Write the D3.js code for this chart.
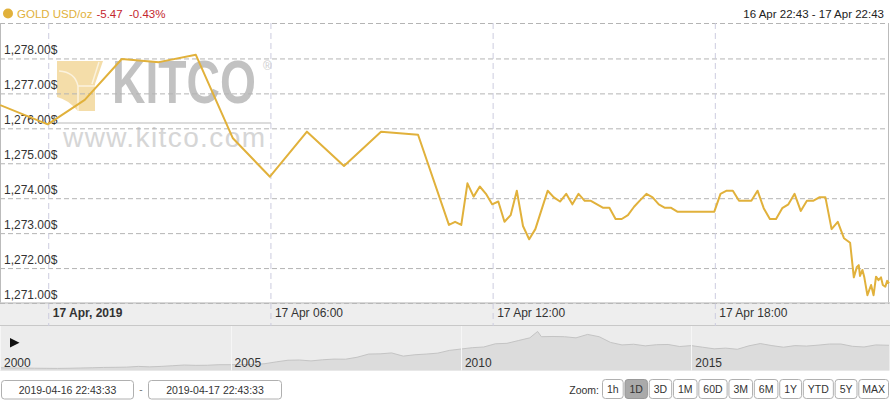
<!DOCTYPE html>
<html><head><meta charset="utf-8">
<script src="https://cdn.jsdelivr.net/npm/d3@7"></script>
<style>
html,body{margin:0;padding:0;background:#fff;}
svg{display:block;font-family:"Liberation Sans",Arial,sans-serif;}
</style></head>
<body><svg id="c" width="890" height="400"></svg>
<script>
// ---------- DATA ----------
const seriesName = "GOLD USD/oz";
const changeText = "-5.47  -0.43%";
const rangeText = "16 Apr 22:43 - 17 Apr 22:43";
const startLabel = "2019-04-16 22:43:33";
const endLabel = "2019-04-17 22:43:33";

const times = [
 "2019-04-16T22:43","2019-04-17T00:00","2019-04-17T01:00","2019-04-17T02:00","2019-04-17T03:00",
 "2019-04-17T04:00","2019-04-17T05:00","2019-04-17T06:00","2019-04-17T07:00","2019-04-17T08:00",
 "2019-04-17T09:00","2019-04-17T10:00","2019-04-17T10:50","2019-04-17T11:00","2019-04-17T11:10",
 "2019-04-17T11:20","2019-04-17T11:30","2019-04-17T11:40","2019-04-17T11:50","2019-04-17T12:00",
 "2019-04-17T12:10","2019-04-17T12:20","2019-04-17T12:30","2019-04-17T12:40","2019-04-17T12:50",
 "2019-04-17T13:00","2019-04-17T13:10","2019-04-17T13:20","2019-04-17T13:30","2019-04-17T13:40",
 "2019-04-17T13:50","2019-04-17T14:00","2019-04-17T14:10","2019-04-17T14:20","2019-04-17T14:30",
 "2019-04-17T14:40","2019-04-17T14:50","2019-04-17T15:00","2019-04-17T15:10","2019-04-17T15:20",
 "2019-04-17T15:30","2019-04-17T15:40","2019-04-17T15:50","2019-04-17T16:00","2019-04-17T16:10",
 "2019-04-17T16:20","2019-04-17T16:30","2019-04-17T16:40","2019-04-17T16:50","2019-04-17T17:00",
 "2019-04-17T18:00","2019-04-17T18:10","2019-04-17T18:20","2019-04-17T18:30","2019-04-17T18:40",
 "2019-04-17T18:50","2019-04-17T19:00","2019-04-17T19:10","2019-04-17T19:20","2019-04-17T19:30",
 "2019-04-17T19:40","2019-04-17T19:50","2019-04-17T20:00","2019-04-17T20:10","2019-04-17T20:20",
 "2019-04-17T20:30","2019-04-17T20:40","2019-04-17T20:50","2019-04-17T21:00","2019-04-17T21:10",
 "2019-04-17T21:20","2019-04-17T21:30","2019-04-17T21:40","2019-04-17T21:46","2019-04-17T21:51",
 "2019-04-17T21:54","2019-04-17T21:56","2019-04-17T22:00","2019-04-17T22:03","2019-04-17T22:08",
 "2019-04-17T22:14","2019-04-17T22:18","2019-04-17T22:22","2019-04-17T22:26","2019-04-17T22:30",
 "2019-04-17T22:33","2019-04-17T22:37","2019-04-17T22:40","2019-04-17T22:43"
];
const prices = [
 1276.65,1276.10,1276.80,1277.97,1277.88,
 1278.09,1275.70,1274.60,1275.89,1274.91,
 1275.89,1275.80,1273.22,1273.31,1273.22,
 1274.41,1274.03,1274.32,1274.11,1273.81,
 1273.89,1273.31,1273.50,1274.20,1273.19,
 1272.81,1273.10,1273.65,1274.20,1274.01,
 1273.89,1274.11,1273.81,1274.11,1273.91,
 1273.91,1273.81,1273.71,1273.71,1273.39,
 1273.39,1273.50,1273.74,1273.93,1274.11,
 1274.01,1273.81,1273.71,1273.71,1273.60,
 1273.60,1274.11,1274.20,1274.20,1273.91,
 1273.91,1273.91,1274.20,1273.70,1273.39,
 1273.39,1273.70,1273.81,1274.11,1273.62,
 1273.91,1273.91,1274.01,1274.01,1273.10,
 1273.31,1272.84,1272.71,1271.72,1272.02,
 1272.07,1271.76,1271.93,1271.72,1271.21,
 1271.50,1271.21,1271.74,1271.64,1271.72,
 1271.50,1271.45,1271.62,1271.55
];
const yTicks = [1271,1272,1273,1274,1275,1276,1277,1278];
const xTickTimes = ["2019-04-17T00:00","2019-04-17T06:00","2019-04-17T12:00","2019-04-17T18:00"];
const xTickLabels = ["17 Apr, 2019","17 Apr 06:00","17 Apr 12:00","17 Apr 18:00"];

// navigator (long-term gold price, quarterly)
const navDates = [
 "2000-01","2000-04","2000-07","2000-10","2001-01","2001-04","2001-07","2001-10",
 "2002-01","2002-04","2002-07","2002-10","2003-01","2003-04","2003-07","2003-10",
 "2004-01","2004-04","2004-07","2004-10","2005-01","2005-04","2005-07","2005-10",
 "2006-01","2006-04","2006-07","2006-10","2007-01","2007-04","2007-07","2007-10",
 "2008-01","2008-04","2008-07","2008-10","2009-01","2009-04","2009-07","2009-10",
 "2010-01","2010-04","2010-07","2010-10","2011-01","2011-04","2011-07","2011-09","2011-10",
 "2012-01","2012-04","2012-07","2012-10","2013-01","2013-04","2013-07","2013-10",
 "2014-01","2014-04","2014-07","2014-10","2015-01","2015-04","2015-07","2015-10",
 "2016-01","2016-04","2016-07","2016-10","2017-01","2017-04","2017-07","2017-10",
 "2018-01","2018-04","2018-07","2018-10","2019-01","2019-04-17"
];
const navPrices = [
 290,280,278,270,265,262,268,280,
 290,305,310,318,350,330,350,380,
 410,395,400,425,425,430,430,470,
 550,620,630,590,640,670,665,750,
 890,900,940,800,860,890,930,1050,
 1110,1170,1200,1340,1360,1480,1600,1880,1650,
 1660,1650,1600,1750,1650,1400,1290,1320,
 1250,1300,1310,1220,1260,1190,1120,1150,
 1100,1250,1350,1260,1190,1260,1240,1280,
 1330,1330,1230,1200,1290,1275
];
const navYears = ["2000","2005","2010","2015"];
const zoomButtons = ["1h","1D","3D","1M","60D","3M","6M","1Y","YTD","5Y","MAX"];
const activeZoom = "1D";

// ---------- CHART ----------
const svg = d3.select("#c");
const gold = "#e1b13b";
const parse = d3.isoParse;
const data = times.map((t,i)=>({t:parse(t), v:prices[i]}));

const plotTop = 23, plotBottom = 302.5, plotLeft = 0.2, plotRight = 889;
const x = d3.scaleTime()
  .domain([parse("2019-04-16T22:43"), parse("2019-04-17T22:43")])
  .range([plotLeft, plotRight]);
const y = d3.scaleLinear().domain([1271,1279]).range([plotBottom, plotTop]);

// header
svg.append("circle").attr("cx",8).attr("cy",13.5).attr("r",5).attr("fill",gold);
const ht = svg.append("text").attr("x",17).attr("y",18).attr("font-size",11.5);
ht.append("tspan").attr("fill",gold).text(seriesName);
ht.append("tspan").attr("fill","#c4262e").attr("dx",4).style("white-space","pre").text(changeText);
svg.append("text").attr("x",884).attr("y",18).attr("text-anchor","end")
  .attr("font-size",11.5).attr("fill","#222").text(rangeText);

// watermark
const wm = svg.append("g").attr("opacity",0.8);
wm.append("path").attr("d","M57,61 H103 L95,84 V111 H78 Q67,99 57,97 Z").attr("fill","#f2d594");
wm.append("path").attr("d","M59,71 Q75,72 78,86 V111 M78,86 H95 M99,62 L92,84").attr("fill","none")
  .attr("stroke","#fbf0d6").attr("stroke-width",1.5);
const kt = wm.append("text").attr("x",0).attr("y",0).attr("font-size",62).attr("font-weight","bold")
  .attr("fill","#b4b4b4").text("KITCO");
const kw = kt.node().getComputedTextLength();
kt.attr("transform",`translate(112,103) scale(${144/kw},1)`);
wm.append("text").attr("x",263).attr("y",70).attr("font-size",12).attr("fill","#c4c4c4").text("®");
wm.append("line").attr("x1",57).attr("x2",271).attr("y1",123).attr("y2",123).attr("stroke","#d4d4d4").attr("stroke-width",2);
wm.append("text").attr("x",63).attr("y",147).attr("font-size",28).attr("fill","#cccccc")
  .attr("textLength",202).attr("lengthAdjust","spacing").text("www.kitco.com");

// axis band
svg.append("rect").attr("x",0).attr("y",plotBottom).attr("width",890).attr("height",326-plotBottom).attr("fill","#eeeeee");
svg.append("line").attr("x1",0).attr("x2",890).attr("y1",325.5).attr("y2",325.5).attr("stroke","#c8c8c8");

// horizontal grid
const yAxis = d3.axisLeft(y).tickValues(yTicks).tickSize(-(plotRight-0)).tickFormat("");
const gy = svg.append("g").attr("transform","translate(0,0.5)").call(yAxis);
gy.select(".domain").remove();
gy.selectAll("line").attr("stroke","#b4b4b4").attr("stroke-dasharray","5,3");
svg.append("line").attr("x1",0).attr("x2",plotRight).attr("y1",plotTop+0.5).attr("y2",plotTop+0.5)
  .attr("stroke","#b4b4b4").attr("stroke-dasharray","5,3");

// vertical grid + x labels
const xAxis = d3.axisBottom(x).tickValues(xTickTimes.map(parse)).tickSize(326-plotTop)
  .tickFormat((d,i)=>xTickLabels[i]);
const gx = svg.append("g").attr("transform",`translate(0.5,${plotTop})`).call(xAxis);
gx.select(".domain").remove();
gx.selectAll("line").attr("stroke","#ccccdf").attr("stroke-dasharray","6,4");
gx.selectAll("text").attr("text-anchor","start").attr("x",4).attr("y",plotBottom-plotTop+6)
  .attr("dy","0.71em").attr("font-size",12).attr("font-family","Liberation Sans, Arial, sans-serif")
  .attr("fill","#333").attr("font-weight",(d,i)=>i===0?"bold":"normal");

// plot borders
svg.append("line").attr("x1",0.5).attr("x2",0.5).attr("y1",plotTop).attr("y2",plotBottom).attr("stroke","#bbb");
svg.append("line").attr("x1",888.5).attr("x2",888.5).attr("y1",plotTop).attr("y2",plotBottom).attr("stroke","#bbb");
svg.append("line").attr("x1",0).attr("x2",890).attr("y1",plotBottom+0.5).attr("y2",plotBottom+0.5).attr("stroke","#bbb");

// y labels
svg.append("g").selectAll("text").data(yTicks).join("text")
  .attr("x",4).attr("y",d=>y(d)-3.5).attr("font-size",12).attr("fill","#333")
  .text(d=>d3.format(",.2f")(d)+"$");

// line
svg.append("path").datum(data)
  .attr("d", d3.line().x(d=>x(d.t)).y(d=>y(d.v)))
  .attr("fill","none").attr("stroke",gold).attr("stroke-width",2).attr("stroke-linejoin","round");

// navigator
const navTop = 326, navBottom = 370.5;
svg.append("rect").attr("x",0).attr("y",navTop).attr("width",890).attr("height",navBottom-navTop).attr("fill","#ececec");
const nx = d3.scaleTime().domain([parse("2000-01-01"), parse("2019-04-17")]).range([0, 889]);
const ny = d3.scaleLinear().domain([280,1900]).range([368,331]);
const navData = navDates.map((d,i)=>({t:parse(d.length===7?d+"-01":d), v:navPrices[i]}));
svg.append("path").datum(navData)
  .attr("d", d3.area().x(d=>nx(d.t)).y0(navBottom).y1(d=>ny(d.v)))
  .attr("fill","#dcdcdc");
svg.append("path").datum(navData)
  .attr("d", d3.line().x(d=>nx(d.t)).y(d=>ny(d.v)))
  .attr("fill","none").attr("stroke","#c4c4c4").attr("stroke-width",1);
const ng = svg.append("g");
ng.selectAll("line").data(navYears).join("line")
  .attr("x1",d=>Math.round(nx(parse(d+"-01-01")))+0.5).attr("x2",d=>Math.round(nx(parse(d+"-01-01")))+0.5)
  .attr("y1",navTop).attr("y2",navBottom).attr("stroke","#f6f6f6");
ng.selectAll("text").data(navYears).join("text")
  .attr("x",d=>nx(parse(d+"-01-01"))+4).attr("y",366.5).attr("font-size",12).attr("fill","#333").text(d=>d);
svg.append("path").attr("d","M10,338 L19.5,342.8 L10,347.5 Z").attr("fill","#111");

// bottom: date inputs
function box(x0,w,label){
  svg.append("rect").attr("x",x0+0.5).attr("y",380.5).attr("width",w).attr("height",18.5)
    .attr("rx",3).attr("fill","#fff").attr("stroke","#b0b0b0");
  svg.append("text").attr("x",x0+w/2+0.5).attr("y",393.5).attr("text-anchor","middle")
    .attr("font-size",10.5).attr("fill","#333").text(label);
}
box(1,132,startLabel);
svg.append("text").attr("x",141).attr("y",393).attr("text-anchor","middle").attr("font-size",10).attr("fill","#777").text("-");
box(148,133,endLabel);

// zoom buttons
svg.append("text").attr("x",599).attr("y",393.5).attr("text-anchor","end").attr("font-size",10.5).attr("fill","#333").text("Zoom:");
let bx = 602;
const measure = svg.append("text").attr("font-size",10.5).attr("opacity",0);
zoomButtons.forEach((b,i)=>{
  measure.text(b);
  let w = measure.node().getComputedTextLength()+9;
  if (i===zoomButtons.length-1) w = 888-bx;
  const act = b===activeZoom;
  svg.append("rect").attr("x",bx+0.5).attr("y",379.5).attr("width",w).attr("height",19)
    .attr("rx",3).attr("fill",act?"#aaaaaa":"#fff").attr("stroke",act?"#999":"#b0b0b0");
  svg.append("text").attr("x",bx+w/2+0.5).attr("y",393.3).attr("text-anchor","middle")
    .attr("font-size",10.5).attr("fill","#333").text(b);
  bx += w+1.8;
});
measure.remove();
</script></body></html>
